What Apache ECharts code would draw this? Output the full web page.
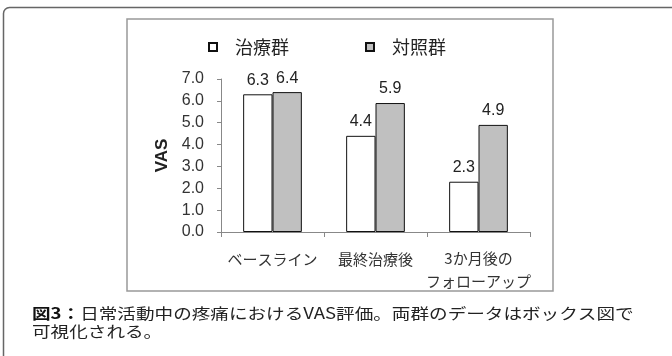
<!DOCTYPE html>
<html>
<head>
<meta charset="utf-8">
<script src="https://cdn.jsdelivr.net/npm/echarts@6/dist/echarts.min.js"></script>
<style>
  html, body { margin: 0; padding: 0; background: #fff; }
  #chart { width: 672px; height: 356px; }
</style>
</head>
<body>
<div id="chart"></div>
<script>
const categories = ['ベースライン', '最終治療後', '3か月後の\nフォローアップ']
const treated = [6.3, 4.4, 2.3]
const control = [6.4, 5.9, 4.9]
const seriesNames = ['治療群', '対照群']
const yTicks = { min: 0, max: 7, interval: 1 }
const captionBold = '図3：'
const captionLine1 = '日常活動中の疼痛におけるVAS評価。両群のデータはボックス図で'
const captionLine2 = '可視化される。'

const chart = echarts.init(document.getElementById('chart'))

const barLabel = {
  show: true,
  position: 'top',
  distance: 6,
  fontFamily: 'Liberation Sans',
  fontSize: 16,
  color: '#222',
  formatter: p => p.value.toFixed(1)
}

chart.setOption({
  animation: false,
  backgroundColor: '#fff',
  grid: { left: 221, right: 142, top: 79, bottom: 124 },
  legend: {
    left: 203,
    top: 33,
    itemWidth: 8,
    itemHeight: 8,
    itemGap: 76,
    icon: 'rect',
    textStyle: {
      fontFamily: 'Noto Sans CJK JP',
      fontSize: 18,
      color: '#222',
      padding: [0, 0, 0, 13]
    },
    data: seriesNames
  },
  xAxis: {
    type: 'category',
    data: categories,
    axisLine: { lineStyle: { color: '#888', width: 1 } },
    axisTick: { show: true, length: 5, lineStyle: { color: '#888' } },
    axisLabel: {
      interval: 0,
      fontFamily: 'Noto Sans CJK JP',
      fontSize: 15,
      color: '#333',
      lineHeight: 23,
      verticalAlign: 'top',
      margin: 15,
      // single-line labels sit lower than the two-line one
      formatter: v => v.indexOf('\n') < 0 ? '{s|' + v + '}' : v,
      rich: {
        s: { fontFamily: 'Noto Sans CJK JP', fontSize: 15, color: '#333', lineHeight: 25 }
      }
    }
  },
  yAxis: {
    type: 'value',
    min: yTicks.min,
    max: yTicks.max,
    interval: yTicks.interval,
    name: 'VAS',
    nameLocation: 'middle',
    nameGap: 50,
    nameTextStyle: {
      fontFamily: 'Liberation Sans',
      fontWeight: 'bold',
      fontSize: 17,
      color: '#222'
    },
    axisLine: { show: true, lineStyle: { color: '#888', width: 1 } },
    axisTick: { show: true, length: 4, lineStyle: { color: '#888' } },
    splitLine: { show: false },
    axisLabel: {
      fontFamily: 'Liberation Sans',
      fontSize: 16,
      color: '#333',
      margin: 17,
      formatter: v => v.toFixed(1)
    }
  },
  series: [
    {
      name: seriesNames[0],
      type: 'bar',
      data: treated,
      barGap: '0%',
      barCategoryGap: '43%',
      itemStyle: { color: '#fff', borderColor: '#111', borderWidth: 1 },
      label: barLabel
    },
    {
      name: seriesNames[1],
      type: 'bar',
      data: control,
      itemStyle: { color: '#c0c0c0', borderColor: '#111', borderWidth: 1 },
      label: barLabel
    }
  ],
  graphic: [
    {
      type: 'rect',
      shape: { x: 3.5, y: 7.5, width: 720, height: 400, r: 6 },
      style: { fill: null, stroke: '#666', lineWidth: 1.5 },
      silent: true
    },
    {
      type: 'rect',
      shape: { x: 127, y: 19, width: 426, height: 272 },
      style: { fill: null, stroke: '#999', lineWidth: 1.5 },
      silent: true
    },
    {
      // caption glyphs in the source are flattened, so squeeze vertically
      type: 'text',
      x: 32,
      y: 304,
      scaleY: 0.82,
      style: {
        text: '{b|' + captionBold + '}{n|' + captionLine1 + '}\n{n|' + captionLine2 + '}',
        verticalAlign: 'top',
        rich: {
          b: { fontFamily: 'Noto Sans CJK JP', fontWeight: 'bold', fontSize: 18.6, lineHeight: 22, fill: '#111' },
          n: { fontFamily: 'Noto Sans CJK JP', fontSize: 18.6, lineHeight: 22, fill: '#222' }
        }
      }
    }
  ]
})
</script>
</body>
</html>
